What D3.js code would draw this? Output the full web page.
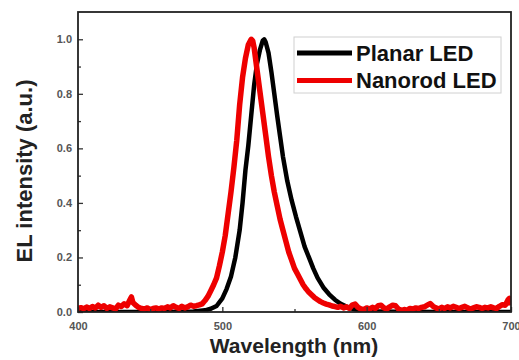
<!DOCTYPE html>
<html>
<head>
<meta charset="utf-8">
<script src="https://cdn.jsdelivr.net/npm/d3@7"></script>
<style>
  body { margin: 0; background: #fff; }
  text { font-family: "Liberation Sans", Arial, sans-serif; }
</style>
</head>
<body>
<div id="chart"></div>
<script>
// EL spectra

const planarWl  = [400, 420, 440, 460, 480, 488, 492, 496, 500, 503, 506, 509, 512, 514, 516, 518, 520, 522, 524, 526, 528, 529, 530, 532, 534, 536, 538, 540, 542, 545, 548, 551, 554, 557, 560, 563, 566, 570, 574, 578, 582, 586, 590, 595, 600, 620, 650, 700];
const planarVal = [0, 0, 0, 0, 0.002, 0.006, 0.012, 0.022, 0.05, 0.085, 0.13, 0.2, 0.3, 0.4, 0.52, 0.61, 0.72, 0.83, 0.91, 0.96, 0.995, 1.0, 0.99, 0.95, 0.88, 0.8, 0.72, 0.645, 0.57, 0.48, 0.41, 0.35, 0.295, 0.24, 0.2, 0.16, 0.125, 0.09, 0.065, 0.045, 0.03, 0.02, 0.012, 0.006, 0.003, 0.001, 0, 0];

const nanorodWl  = [400, 402, 404, 406, 408, 410, 412, 414, 416, 418, 420, 422, 424, 426, 428, 430, 432, 434, 436, 437, 438, 440, 442, 444, 446, 448, 450, 452, 454, 456, 458, 460, 462, 464, 466, 468, 470, 472, 474, 476, 478, 480, 482, 484, 486,
  488, 490, 492, 494, 496, 498, 500, 502, 504, 506, 508, 510, 512, 514, 516, 518, 520, 521, 522, 524, 526, 528, 530, 532, 534, 536, 538, 540, 542, 544, 546, 548, 550, 552, 554, 556, 558, 560, 562, 564, 566, 568, 570, 572, 574, 576,
  578, 580, 582, 584, 586, 588, 590, 592, 594, 596, 598, 600, 602, 604, 606, 608, 610, 612, 614, 616, 618, 620, 622, 624, 626, 628, 630, 632, 634, 636, 638, 640, 642, 644, 646, 648, 650, 652, 654, 656, 658, 660, 662, 664, 666, 668, 670, 672, 674, 676, 678, 680, 682, 684, 686, 688, 690, 692, 694, 696, 698, 699, 700];
const nanorodVal = [0.014, 0.016, 0.012, 0.018, 0.013, 0.02, 0.015, 0.025, 0.017, 0.023, 0.013, 0.019, 0.015, 0.011, 0.025, 0.02, 0.03, 0.023, 0.045, 0.055, 0.035, 0.025, 0.017, 0.013, 0.011, 0.015, 0.009, 0.013, 0.015, 0.011, 0.015, 0.013, 0.019, 0.015, 0.023, 0.017, 0.013, 0.021, 0.015, 0.019, 0.025, 0.021, 0.023, 0.026, 0.03,
  0.042, 0.057, 0.078, 0.1, 0.125, 0.17, 0.22, 0.28, 0.36, 0.44, 0.53, 0.63, 0.76, 0.86, 0.93, 0.98, 1.0, 0.995, 0.97, 0.89, 0.81, 0.73, 0.65, 0.57, 0.5, 0.44, 0.39, 0.34, 0.3, 0.26, 0.22, 0.19, 0.16, 0.14, 0.12, 0.1, 0.085, 0.072, 0.062, 0.052, 0.045, 0.038, 0.033, 0.029, 0.026, 0.022,
  0.02, 0.017, 0.021, 0.015, 0.019, 0.013, 0.025, 0.029, 0.017, 0.011, 0.009, 0.015, 0.011, 0.017, 0.013, 0.023, 0.025, 0.015, 0.011, 0.019, 0.025, 0.023, 0.011, 0.006, 0.009, 0.007, 0.013, 0.011, 0.015, 0.013, 0.017, 0.019, 0.025, 0.031, 0.021, 0.015, 0.011, 0.017, 0.013, 0.019, 0.015, 0.021, 0.017, 0.013, 0.017, 0.021, 0.015, 0.011, 0.015, 0.019, 0.017, 0.013, 0.017, 0.015, 0.019, 0.015, 0.013, 0.021, 0.027, 0.025, 0.045, 0.05, 0.025];

const xMajor = [400, 500, 600, 700];
const xMinor = [450, 550, 650];
const yMajor = [0, 0.2, 0.4, 0.6, 0.8, 1.0];
const yMinor = [0.1, 0.3, 0.5, 0.7, 0.9];

const seriesNames  = ["Planar LED", "Nanorod LED"];
const seriesColors = ["#000000", "#ee0000"];

const width = 519, height = 360,
      margin = ({top: 12, right: 8, bottom: 48, left: 78});

let svg = d3.select("#chart")
  .append("svg")
  .attr("width", width)
  .attr("height", height)
  .attr("viewBox", [0, 0, width, height]);

const x = d3.scaleLinear()
  .domain([400, 700])
  .range([margin.left, width - margin.right]);

const y = d3.scaleLinear()
  .domain([0, 1.1])
  .range([height - margin.bottom, margin.top]);

const line = d3.line()
  .x(d => x(d[0]))
  .y(d => y(d[1]));

// clip so thick lines do not spill past the frame
svg.append("clipPath").attr("id", "clip")
  .append("rect")
  .attr("x", margin.left).attr("y", margin.top)
  .attr("width", x(700) - margin.left)
  .attr("height", y(0) - margin.top);

const planar  = planarWl.map((w, i) => [w, planarVal[i]]);
const nanorod = nanorodWl.map((w, i) => [w, nanorodVal[i]]);

const curves = svg.append("g").attr("clip-path", "url(#clip)");

curves.append("path")
  .datum(planar)
  .attr("fill", "none")
  .attr("stroke", seriesColors[0])
  .attr("stroke-width", 4.5)
  .attr("stroke-linejoin", "round")
  .attr("d", line);

curves.append("path")
  .datum(nanorod)
  .attr("fill", "none")
  .attr("stroke", seriesColors[1])
  .attr("stroke-width", 5.5)
  .attr("stroke-linejoin", "round")
  .attr("d", line);

// axes, ticks pointing in
const xAxis = g => g
  .attr("transform", `translate(0, ${y(0)})`)
  .call(d3.axisBottom(x).tickValues(xMajor).tickSize(-5).tickPadding(10).tickFormat(d3.format("d")))
  .call(g => g.select(".domain").remove());

const xAxisMinor = g => g
  .attr("transform", `translate(0, ${y(0)})`)
  .call(d3.axisBottom(x).tickValues(xMinor).tickSize(-3).tickFormat(""))
  .call(g => g.select(".domain").remove());

const yAxis = g => g
  .attr("transform", `translate(${margin.left}, 0)`)
  .call(d3.axisLeft(y).tickValues(yMajor).tickSize(-5).tickPadding(6).tickFormat(d3.format(".1f")))
  .call(g => g.select(".domain").remove());

const yAxisMinor = g => g
  .attr("transform", `translate(${margin.left}, 0)`)
  .call(d3.axisLeft(y).tickValues(yMinor).tickSize(-3).tickFormat(""))
  .call(g => g.select(".domain").remove());

svg.append("g").call(xAxis);
svg.append("g").call(xAxisMinor);
svg.append("g").call(yAxis);
svg.append("g").call(yAxisMinor);

svg.selectAll(".tick line").attr("stroke", "#333").attr("stroke-width", 1.3);
svg.selectAll(".tick text")
  .attr("fill", "#555")
  .style("font-size", "11px")
  .style("font-weight", "bold")
  .style("font-family", "'Liberation Sans', Arial, sans-serif");

// frame
svg.append("rect")
  .attr("x", margin.left)
  .attr("y", margin.top)
  .attr("width", x(700) - margin.left)
  .attr("height", y(0) - margin.top)
  .attr("fill", "none")
  .attr("stroke", "#222")
  .attr("stroke-width", 1.8);

// axis titles
svg.append("text")
  .text("Wavelength (nm)")
  .attr("x", 294)
  .attr("y", 353)
  .attr("text-anchor", "middle")
  .style("font-size", "21px")
  .style("font-weight", "bold")
  .attr("fill", "#222");

svg.append("text")
  .text("EL intensity (a.u.)")
  .attr("transform", "translate(32, 171) rotate(-90)")
  .attr("text-anchor", "middle")
  .style("font-size", "22px")
  .style("font-weight", "bold")
  .attr("fill", "#222");

// legend
const legend = svg.append("g");
legend.append("rect")
  .attr("x", 294).attr("y", 37)
  .attr("width", 207).attr("height", 56)
  .attr("fill", "#fff")
  .attr("stroke", "#d0d0d0")
  .attr("stroke-width", 1);

seriesNames.forEach((name, i) => {
  const ly = 53 + i * 27.5;
  legend.append("line")
    .attr("x1", 297).attr("x2", 352)
    .attr("y1", ly).attr("y2", ly)
    .attr("stroke", seriesColors[i])
    .attr("stroke-width", 5);
  legend.append("text")
    .text(name)
    .attr("x", 356)
    .attr("y", ly + 7.5)
    .style("font-size", "22px")
    .style("font-weight", "bold")
    .attr("fill", "#111");
});
</script>
</body>
</html>
